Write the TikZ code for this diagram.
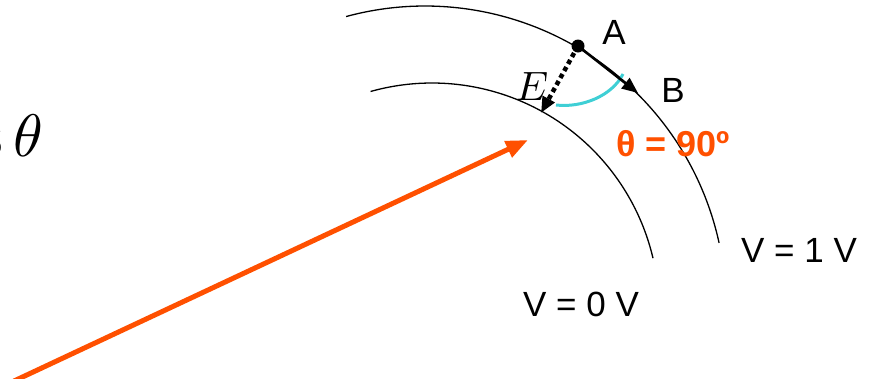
\documentclass[tikz,border=0pt]{standalone}
\usepackage{fontspec}
\setmainfont{Liberation Sans}
\usetikzlibrary{arrows.meta}
\definecolor{vorange}{HTML}{FF5000}
\definecolor{vcyan}{HTML}{3FCFD5}
\tikzset{
  equi/.style={line width=1.3pt, black},
  lbl/.style={inner sep=0pt, font=\fontsize{35}{42}\selectfont},
  headtri/.style={-{Triangle[length=16pt,width=13pt]}},
}
\begin{document}
\begin{tikzpicture}[x=1pt,y=1pt]
\useasboundingbox (0,0) rectangle (872,-378);
\clip (0,0) rectangle (872,-378);
% equipotential arcs
\draw[equi] (425,-307) ++(105.2:301pt) arc[start angle=105.2, end angle=12.3, radius=301pt];
\draw[equi] (432,-310) ++(105.7:227pt) arc[start angle=105.7, end angle=13.2, radius=227pt];
% points
\coordinate (A) at (578,-46);
\coordinate (Btip) at (638,-93);
\coordinate (Etip) at (541,-113);
\coordinate (Ostart) at (14,-381);
\coordinate (Otip) at (528,-140);
% cyan angle arc
\draw[vcyan, line width=3pt] (556,-105) .. controls (582,-108) and (612,-96) .. (623,-74);
% A to B
\draw[line width=2.6pt, headtri] (A) -- (Btip);
% E dotted
\draw[line width=4.5pt, dash pattern=on 4.5pt off 3.5pt, headtri] (A) -- (Etip);
\fill (A) circle (6.5pt);
% orange arrow
\draw[vorange, line width=5pt, -{Triangle[length=22pt,width=17pt]}] (Ostart) -- (Otip);
% labels
\node[lbl] (lA) at (614,-32) {A};
\node[lbl] (lB) at (673,-90) {B};
\node[inner sep=0pt, scale=4.1] (lE) at (532,-86) {$E$};
\node[lbl, text=vorange, font=\fontsize{36}{42}\selectfont\bfseries] (th) at (673,-144) {θ = 90º};
\node[lbl] (v1) at (799,-250) {V = 1 V};
\node[lbl] (v0) at (581,-304) {V = 0 V};
\node[inner sep=0pt, scale=6, anchor=base east] (cos) at (45,-156) {$\cos\theta$};
\end{tikzpicture}
\end{document}
